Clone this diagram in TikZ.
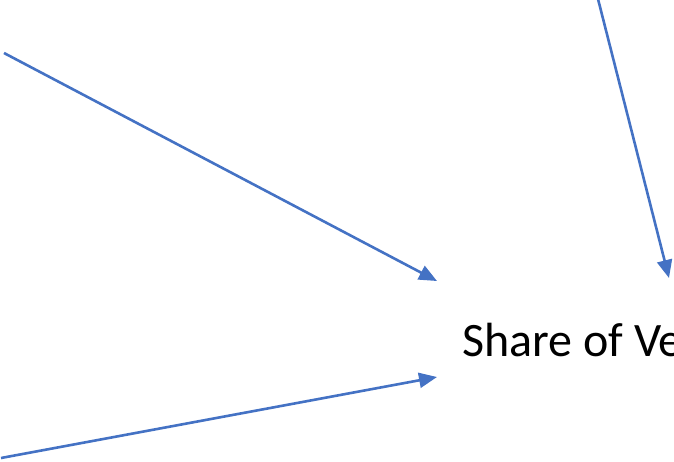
\documentclass[tikz,border=0pt]{standalone}
\usepackage{fontspec}
\setmainfont{Carlito}
\usetikzlibrary{arrows.meta}
\definecolor{arrowblue}{HTML}{4472C4}
\tikzset{
  link/.style={draw=arrowblue, line width=2.6pt, -{Triangle[length=18pt,width=15pt]}},
  label/.style={inner sep=0pt, anchor=base west, font=\fontsize{48}{58}\selectfont}
}
\begin{document}
\begin{tikzpicture}[x=1pt,y=-1pt]
\useasboundingbox (0,0) rectangle (674,461);
\clip (0,0) rectangle (674,461);
\coordinate (a1) at (4,53);
\coordinate (t1) at (437,281);
\coordinate (a2) at (598,-1);
\coordinate (t2) at (669,278);
\coordinate (a3) at (1,458);
\coordinate (t3) at (437,377);
\node[label] (share) at (462,356) {Share of Ve};
\draw[link] (a1) -- (t1);
\draw[link] (a2) -- (t2);
\draw[link] (a3) -- (t3);
\end{tikzpicture}
\end{document}
